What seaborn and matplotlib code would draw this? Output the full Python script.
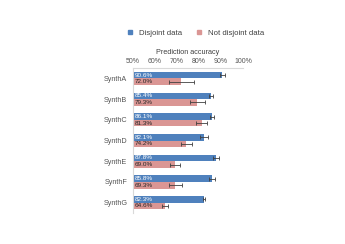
import pandas as pd
import matplotlib.pyplot as plt
import seaborn as sns
from matplotlib.ticker import PercentFormatter

# Chart values
datasets = ["SynthA", "SynthB", "SynthC", "SynthD", "SynthE", "SynthF", "SynthG"]
disjoint = [90.6, 85.4, 86.1, 82.1, 87.8, 85.8, 82.3]
not_disjoint = [72.0, 79.3, 81.3, 74.2, 69.0, 69.3, 64.6]
disjoint_err = [1.2, 1.0, 0.9, 1.8, 1.4, 1.3, 0.6]
not_disjoint_err = [5.6, 3.3, 2.5, 2.4, 2.4, 2.8, 1.5]
series = ["Disjoint data", "Not disjoint data"]
xticks = [50, 60, 70, 80, 90, 100]

df = pd.DataFrame({
    "dataset": datasets * 2,
    "accuracy": disjoint + not_disjoint,
    "err": disjoint_err + not_disjoint_err,
    "series": [series[0]] * len(datasets) + [series[1]] * len(datasets),
})

sns.set_style("white")
plt.rcParams["font.family"] = ["Liberation Sans", "DejaVu Sans"]
colors = ["#4F81BD", "#DA9694"]

fig = plt.figure(figsize=(3.45, 2.44), dpi=100)
ax = fig.add_axes([0.3855, 0.127, 0.3188, 0.594])

sns.barplot(data=df, x="accuracy", y="dataset", hue="series", orient="h",
            palette=colors, width=0.64, errorbar=None, legend=False, ax=ax,
            saturation=1, linewidth=0)

# error bars and value labels per bar
for i, s in enumerate(series):
    cont = ax.containers[i]
    sub = df[df["series"] == s]
    for patch, val, err in zip(cont.patches, sub["accuracy"], sub["err"]):
        yc = patch.get_y() + patch.get_height() / 2
        ax.errorbar(val, yc, xerr=err, fmt="none", ecolor="#404040",
                    elinewidth=0.6, capsize=1.6, capthick=0.6)
        ax.text(50.8, yc, f"{val:.1f}%", va="center", ha="left", fontsize=4.6,
                color="white" if i == 0 else "#262626")

ax.set_ylim(6.5, -0.5)
ax.set_xlim(50, 100)
ax.set_xticks(xticks)
ax.xaxis.set_major_formatter(PercentFormatter(decimals=0))
ax.xaxis.tick_top()
ax.xaxis.set_label_position("top")
ax.set_xlabel("Prediction accuracy", fontsize=5.2, color="#404040", labelpad=3)
ax.set_ylabel("")
ax.tick_params(axis="x", length=0, labelsize=5, labelcolor="#555555", pad=2)
ax.tick_params(axis="y", length=0, labelsize=5.2, labelcolor="#555555", pad=4)

for side in ["bottom", "right"]:
    ax.spines[side].set_visible(False)
for side in ["top", "left"]:
    ax.spines[side].set_color("#D9D9D9")
    ax.spines[side].set_linewidth(0.8)

# legend at top
handles = [plt.Line2D([], [], marker="s", linestyle="none", markersize=3.2,
                      color=c) for c in colors]
fig.legend(handles, series, loc="center", bbox_to_anchor=(0.56, 0.865), ncol=2,
           frameon=False, fontsize=5.6, handletextpad=0.1, columnspacing=1.2,
           labelcolor="#404040")

plt.savefig("out.png", dpi=100)
